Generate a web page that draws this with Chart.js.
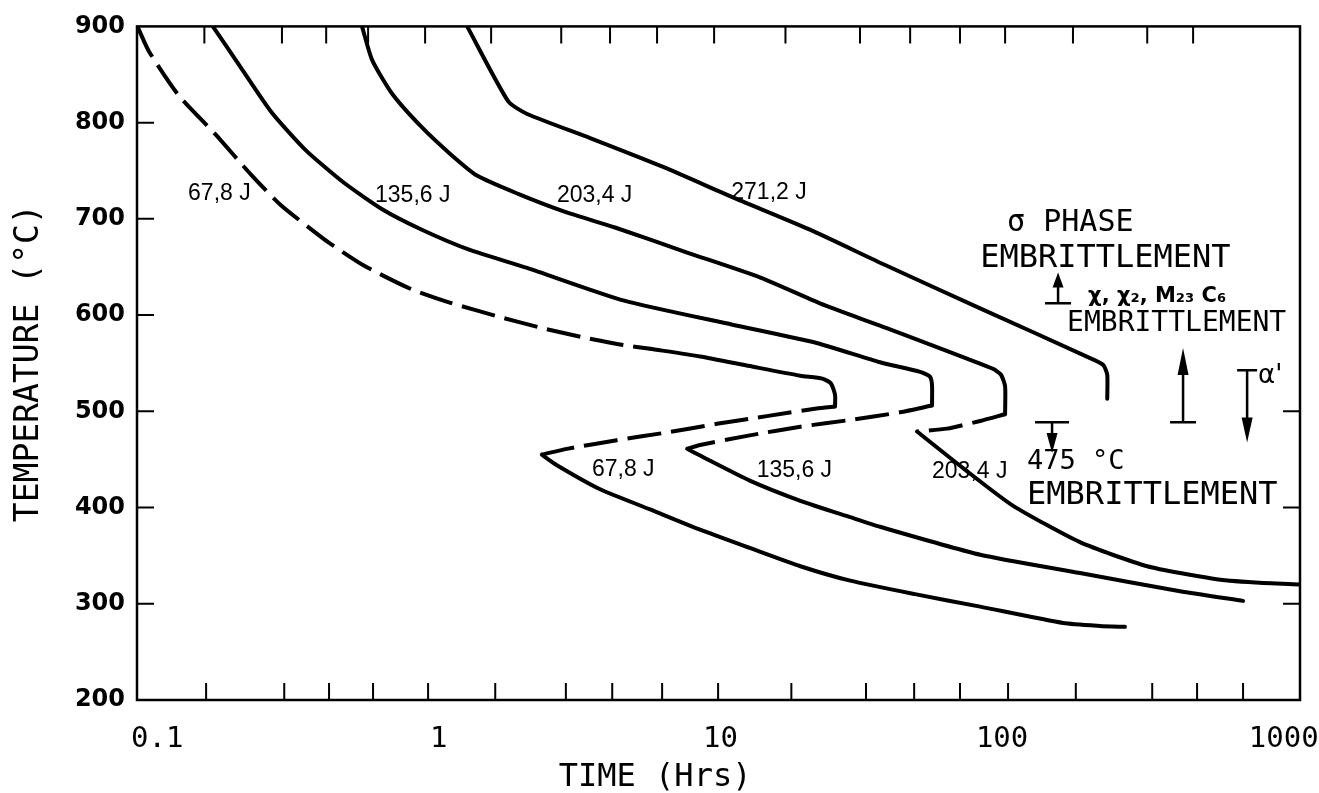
<!DOCTYPE html>
<html>
<head>
<meta charset="utf-8">
<script src="https://cdn.jsdelivr.net/npm/chart.js@4.4.1/dist/chart.umd.min.js"></script>
<style>
html,body{margin:0;padding:0;background:#fff;}
canvas{display:block;}
</style>
</head>
<body>
<canvas id="c" width="1319" height="793"></canvas>
<script>
// ---------- axis values ----------
const xTickLabels = [0.1, 1, 10, 100, 1000];
const yTickLabels = [200, 300, 400, 500, 600, 700, 800, 900];
const xMinorTicksBottom = [0.142, 0.269, 0.388, 0.556, 0.872, 1.51, 2.69, 3.93, 5.91, 9.34, 17.0, 31.3, 46.4, 67.5, 100, 174, 325, 469, 683];
const xMinorTicksTop = [0.140, 0.264, 0.379, 0.534, 0.851, 1.46, 2.59, 3.86, 5.67, 9.04, 16.2, 29.8, 44.9, 67.5, 97.6, 170, 312, 454];
const yTicksLeft = [800, 700, 600, 500, 400, 300];
const yTicksRight = [500, 400, 300];

// ---------- curves: [time (h), temperature (°C)] ----------
// 67,8 J
const c678DashedUpper = [[0.081,900],[0.089,874],[0.113,829],[0.153,788],[0.205,746],[0.260,715],[0.372,679],[0.512,652],[0.759,627],[1.04,613],[1.57,598],[2.18,587],[3.20,576],[4.29,569],[5.36,565]];
const c678SolidUpper = [[5.36,565],[8.06,557],[12.1,547],[18.3,537],[21.9,534],[23.5,529],[24.3,517],[24.3,505]];
const c678DashedReturn = [[24.3,505],[20.9,503],[13.9,495],[9.25,487],[6.14,478],[4.08,470],[2.71,461],[2.21,455]];
const c678SolidLower = [[2.21,455],[2.50,444],[3.56,419],[5.36,398],[8.06,377],[12.1,358],[18.3,339],[27.5,324],[46.7,310],[79.6,297],[157,280],[212,277],[260,276]];
// 135,6 J
const c1356SolidUpper = [[0.150,900],[0.183,863],[0.242,811],[0.319,772],[0.436,738],[0.599,710],[0.825,689],[1.22,668],[1.96,649],[4.33,615],[10.5,590],[20.9,571],[35.1,551],[48.7,541],[52.8,536],[53.7,527],[53.7,506]];
const c1356DashedReturn = [[53.7,506],[41.4,499],[27.5,491],[18.3,484],[12.1,475],[8.06,465],[7.25,461]];
const c1356SolidLower = [[7.25,461],[8.06,454],[12.1,428],[18.3,407],[27.5,390],[35.1,380],[79.6,351],[180,332],[408,313],[683,303]];
// 203,4 J
const c2034SolidUpper = [[0.508,900],[0.552,865],[0.650,830],[0.823,796],[1.04,768],[1.30,745],[1.82,726],[2.69,707],[4.02,691],[7.25,665],[13.2,639],[22.4,610],[35.1,589],[88.5,544],[94.4,538],[97.6,526],[97.6,497]];
const c2034DashedReturn = [[97.6,497],[79.6,490],[60.7,482],[47.5,479]];
const c2034SolidLower = [[47.5,479],[69.2,441],[104,402],[180,364],[312,339],[535,326],[755,322],[1085,320]];
// 271,2 J
const c2712Solid = [[1.20,900],[1.68,822],[1.96,809],[3.28,784],[5.96,754],[10.8,721],[19.7,689],[36.6,652],[79.6,607],[200,554],[218,548],[225,538],[225,513]];

// ---------- texts (anchored at [time, temperature], left-aligned) ----------
const curveLabels = [
  ["67,8 J", 0.1225, 726], ["135,6 J", 0.565, 724], ["203,4 J", 2.50, 724], ["271,2 J", 10.4, 727.5],
  ["67,8 J", 3.33, 439], ["135,6 J", 12.8, 438.6], ["203,4 J", 53.7, 437]
];
const noteTexts = [
  ["σ PHASE", 99.2, 695.3, "mid"],
  ["EMBRITTLEMENT", 79.6, 658.4, "big"],
  ["χ, χ₂, M₂₃ C₆", 192.4, 619.3, "chi"],
  ["EMBRITTLEMENT", 162.0, 590.6, "small"],
  ["α'", 772, 536, "alpha"],
  ["475 °C", 116.8, 447.7, "num"],
  ["EMBRITTLEMENT", 116.8, 412.6, "big"]
];
// arrows: [time, tail temperature, tip temperature, bar half-width px, head length px]
const noteArrows = [
  [150.5, 612.4, 644.3, 13, 15],
  [418.2, 488.6, 565.9, 13, 27],
  [706.1, 542.7, 467.5, 10, 25],
  [143.3, 488.7, 456.7, 17, 20]
];
const xTitleText = "TIME (Hrs)";
const xTitleAt = 5.58;

// ---------- styles ----------
const MONO = "'DejaVu Sans Mono', 'Liberation Mono', monospace";
const noteFonts = {
  big: "32px " + MONO,
  mid: "30px " + MONO,
  small: "28px " + MONO,
  num: "27px " + MONO,
  chi: "bold 21px 'DejaVu Sans', sans-serif",
  alpha: "26px 'DejaVu Sans', sans-serif"
};
const TICK = 17;
const SOLID = [];
const DASH = [34, 10];

function ds(points, dash) {
  return {
    data: points.map(([x, y]) => ({x, y})),
    showLine: true,
    borderColor: '#000',
    borderWidth: 4,
    borderDash: dash,
    borderCapStyle: dash.length ? 'butt' : 'round',
    borderJoinStyle: 'round',
    pointRadius: 0,
    pointHoverRadius: 0,
    tension: 0.2,
    fill: false
  };
}

const decorPlugin = {
  id: 'decor',
  afterDraw(chart) {
    const {ctx, chartArea: a, scales: {x, y}} = chart;
    ctx.save();
    ctx.strokeStyle = '#000';
    ctx.fillStyle = '#000';
    // frame
    ctx.lineWidth = 2.5;
    ctx.strokeRect(a.left, a.top, a.right - a.left, a.bottom - a.top);
    // inward ticks
    ctx.lineWidth = 2;
    ctx.beginPath();
    xMinorTicksBottom.forEach(v => { const p = x.getPixelForValue(v); ctx.moveTo(p, a.bottom); ctx.lineTo(p, a.bottom - TICK); });
    xMinorTicksTop.forEach(v => { const p = x.getPixelForValue(v); ctx.moveTo(p, a.top); ctx.lineTo(p, a.top + TICK); });
    yTicksLeft.forEach(v => { const p = y.getPixelForValue(v); ctx.moveTo(a.left, p); ctx.lineTo(a.left + TICK, p); });
    yTicksRight.forEach(v => { const p = y.getPixelForValue(v); ctx.moveTo(a.right, p); ctx.lineTo(a.right - TICK, p); });
    ctx.stroke();
    // curve labels
    ctx.textAlign = 'left';
    ctx.textBaseline = 'middle';
    ctx.font = "23px 'Liberation Sans', Arial, sans-serif";
    curveLabels.forEach(([t, vx, vy]) => ctx.fillText(t, x.getPixelForValue(vx), y.getPixelForValue(vy)));
    // notes
    noteTexts.forEach(([t, vx, vy, st]) => {
      ctx.font = noteFonts[st];
      ctx.fillText(t, x.getPixelForValue(vx), y.getPixelForValue(vy));
    });
    // arrows
    noteArrows.forEach(([vx, t0, t1, hw, hl]) => {
      const px = x.getPixelForValue(vx);
      const p0 = y.getPixelForValue(t0);
      const p1 = y.getPixelForValue(t1);
      const dir = p1 < p0 ? -1 : 1;
      ctx.lineWidth = 2.5;
      ctx.beginPath();
      ctx.moveTo(px - hw, p0); ctx.lineTo(px + hw, p0);
      ctx.moveTo(px, p0); ctx.lineTo(px, p1 - dir * hl * 0.6);
      ctx.stroke();
      ctx.beginPath();
      ctx.moveTo(px, p1);
      ctx.lineTo(px - 5.5, p1 - dir * hl);
      ctx.lineTo(px + 5.5, p1 - dir * hl);
      ctx.closePath();
      ctx.fill();
    });
    // x axis title
    ctx.font = "32px " + MONO;
    ctx.textAlign = 'center';
    ctx.fillText(xTitleText, x.getPixelForValue(xTitleAt), a.bottom + 78);
    ctx.restore();
  }
};

new Chart(document.getElementById('c'), {
  type: 'scatter',
  data: {
    datasets: [
      ds(c678DashedUpper, DASH), ds(c678SolidUpper, SOLID), ds(c678DashedReturn, DASH), ds(c678SolidLower, SOLID),
      ds(c1356SolidUpper, SOLID), ds(c1356DashedReturn, DASH), ds(c1356SolidLower, SOLID),
      ds(c2034SolidUpper, SOLID), ds(c2034DashedReturn, DASH), ds(c2034SolidLower, SOLID),
      ds(c2712Solid, SOLID)
    ]
  },
  options: {
    responsive: false,
    animation: false,
    devicePixelRatio: 1,
    events: [],
    layout: { padding: { top: 20, right: 19, bottom: 0, left: 0 } },
    plugins: { legend: { display: false }, tooltip: { enabled: false } },
    scales: {
      x: {
        type: 'logarithmic',
        min: 0.0807,
        max: 1088,
        grid: { display: false, drawTicks: false },
        border: { display: false },
        afterBuildTicks: s => { s.ticks = xTickLabels.map(v => ({ value: v })); },
        afterFit: s => { s.height = 93; s.paddingLeft = 0; s.paddingRight = 0; },
        ticks: {
          autoSkip: false, maxRotation: 0, minRotation: 0,
          padding: 25, labelOffset: -6, color: '#000',
          font: { family: MONO, size: 29, lineHeight: 1 },
          callback: v => String(v)
        }
      },
      y: {
        type: 'linear',
        min: 200,
        max: 900,
        grid: { display: false, drawTicks: false },
        border: { display: false },
        afterBuildTicks: s => { s.ticks = yTickLabels.map(v => ({ value: v })); },
        afterFit: s => { s.width = 137; },
        ticks: {
          padding: 12, color: '#000',
          font: { family: "'DejaVu Sans', sans-serif", size: 24, weight: 'bold' }
        },
        title: {
          display: true,
          text: 'TEMPERATURE (°C)',
          color: '#000',
          font: { family: MONO, size: 33, lineHeight: 1 },
          padding: { top: 13, bottom: 0 }
        }
      }
    }
  },
  plugins: [decorPlugin]
});
</script>
</body>
</html>
